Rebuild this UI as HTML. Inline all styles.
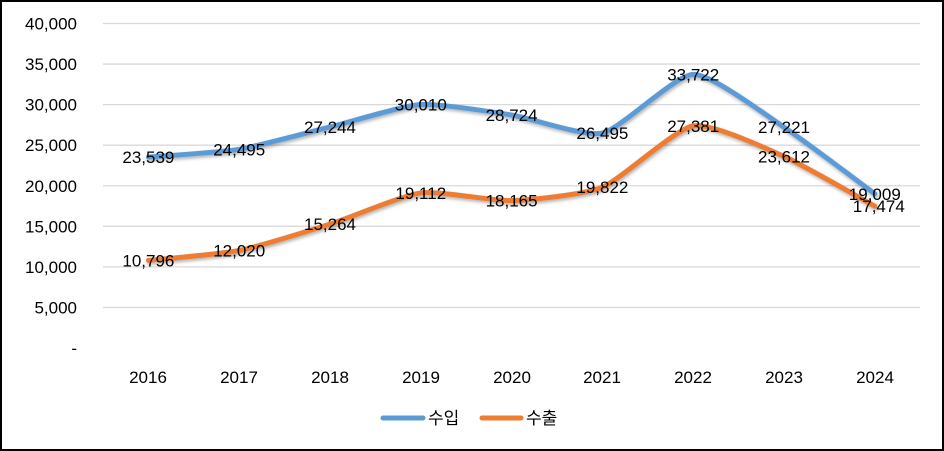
<!DOCTYPE html>
<html><head><meta charset="utf-8"><style>
body{margin:0;background:#fff}
svg{display:block}
text{font-family:"Liberation Sans","Noto Sans CJK KR",sans-serif;fill:#000}
</style></head><body>
<svg id="s" width="944" height="451" viewBox="0 0 944 451" xmlns="http://www.w3.org/2000/svg">
<defs><filter id="sh" x="-5%" y="-20%" width="110%" height="140%"><feDropShadow dx="1" dy="2" stdDeviation="1.5" flood-color="#000" flood-opacity="0.3"/></filter></defs>
<rect x="1" y="1" width="942" height="449" fill="#fff" stroke="#000" stroke-width="2"/>
<g id="grid"></g>
<g id="lines"></g>
<g id="lab" font-size="17" text-anchor="middle"></g>
<g font-size="17" text-anchor="middle">
<text x="148" y="383">2016</text><text x="239" y="383">2017</text><text x="330" y="383">2018</text>
<text x="421" y="383">2019</text><text x="512" y="383">2020</text><text x="602" y="383">2021</text>
<text x="693" y="383">2022</text><text x="784" y="383">2023</text><text x="875" y="383">2024</text>
</g>
<line x1="383" y1="418" x2="423" y2="418" stroke="#5B9BD5" stroke-width="5" stroke-linecap="round"/>
<text x="428" y="424" font-size="17">수입</text>
<line x1="482" y1="418" x2="521" y2="418" stroke="#ED7D31" stroke-width="5" stroke-linecap="round"/>
<text x="526" y="424" font-size="17">수출</text>
</svg>
<script>
var ns="http://www.w3.org/2000/svg";
function Y(v){return 348-v*324.5/40000;}
var xs=[];for(var i=0;i<9;i++)xs.push(148.4+90.8*i);
var imp=[23539,24495,27244,30010,28724,26495,33722,27221,19009];
var exp=[10796,12020,15264,19112,18165,19822,27381,23612,17474];
var g=document.getElementById("grid"),L=document.getElementById("lines"),lb=document.getElementById("lab");
for(var k=0;k<=8;k++){var y=Y(k*5000);
 if(k>0){var l=document.createElementNS(ns,"line");l.setAttribute("x1",103);l.setAttribute("x2",920);l.setAttribute("y1",y);l.setAttribute("y2",y);l.setAttribute("stroke","#d9d9d9");l.setAttribute("stroke-width","1.3");g.appendChild(l);}
 var t=document.createElementNS(ns,"text");t.setAttribute("x",77);t.setAttribute("y",y+6);t.setAttribute("text-anchor","end");t.setAttribute("font-size","17");
 t.textContent=k==0?"-":(k*5000).toLocaleString("en-US");g.appendChild(t);}
function path(d,c){var p=xs.map(function(x,i){return[x,Y(d[i])]});var s="M"+p[0][0]+","+p[0][1];
 for(var i=0;i<p.length-1;i++){var p0=p[i-1]||p[i],p1=p[i],p2=p[i+1],p3=p[i+2]||p2;var t=10;
 s+=" C"+(p1[0]+(p2[0]-p0[0])/t)+","+(p1[1]+(p2[1]-p0[1])/t)+" "+(p2[0]-(p3[0]-p1[0])/t)+","+(p2[1]-(p3[1]-p1[1])/t)+" "+p2[0]+","+p2[1];}
 var e=document.createElementNS(ns,"path");e.setAttribute("d",s);e.setAttribute("fill","none");e.setAttribute("stroke",c);e.setAttribute("stroke-width","5");e.setAttribute("stroke-linecap","round");e.setAttribute("filter","url(#sh)");L.appendChild(e);
 d.forEach(function(v,i){var t=document.createElementNS(ns,"text");t.setAttribute("x",xs[i]+(i==8&&c=="#ED7D31"?4:0));t.setAttribute("y",Y(v)+6);t.textContent=v.toLocaleString("en-US");lb.appendChild(t);});}
path(imp,"#5B9BD5");path(exp,"#ED7D31");
</script>
</body></html>
